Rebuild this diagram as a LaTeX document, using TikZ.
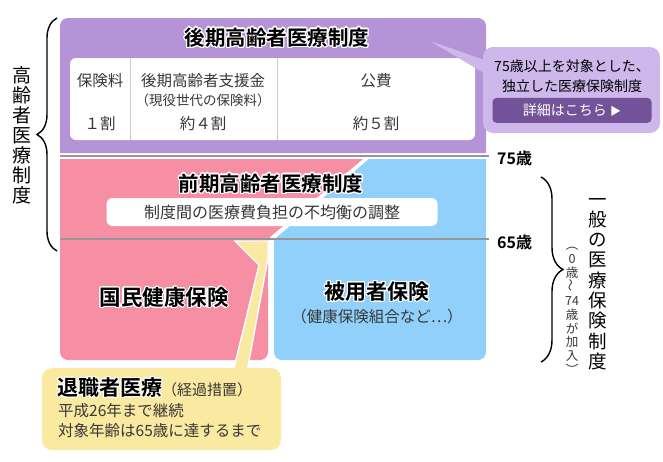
\documentclass[tikz,border=0pt]{standalone}
\usepackage{fontspec}
\setmainfont{Noto Sans CJK JP}[BoldFont={Noto Sans CJK JP Bold}]
\usepackage{contour}
\contourlength{1.2pt}
\contournumber{16}
\usetikzlibrary{positioning, calc}
\usetikzlibrary{decorations.pathreplacing}
\definecolor{koukipurple}{RGB}{180,147,214}
\definecolor{callpurple}{RGB}{206,184,235}
\definecolor{btnpurple}{RGB}{114,82,152}
\definecolor{kokupink}{RGB}{246,143,163}
\definecolor{hiyoblue}{RGB}{145,208,250}
\definecolor{taiyellow}{RGB}{250,233,160}
\definecolor{agegray}{RGB}{150,150,150}
\definecolor{txtgray}{RGB}{55,55,55}

\begin{document}
\begin{tikzpicture}[x=1pt,y=-1pt]
	\useasboundingbox (0,0) rectangle (663,461);
	\def \rowkoukitop{18}
	\def \rowkoukibot{153}
	\def \rowsevfive{156}
	\def \rowzenki{159}
	\def \rowsixfive{239}
	\def \rowbottom{360}
	\def \colleft{60}
	\def \colright{486}
	\tikzstyle{title-txt}=[font=\bfseries\fontsize{20.5}{22}\selectfont]
	\tikzstyle{big-txt}=[font=\bfseries\fontsize{21}{23}\selectfont]
	\tikzstyle{cell-txt}=[text=txtgray,font=\fontsize{15.5}{18}\selectfont]
	\tikzstyle{small-txt}=[text=txtgray,font=\fontsize{13.5}{15}\selectfont]
	\tikzstyle{cell-div}=[draw=black!20,line width=1pt]
	\tikzstyle{age-lbl}=[anchor=west,inner sep=0pt,font=\bfseries\fontsize{16}{18}\selectfont]
	\tikzstyle{age-line}=[draw=agegray,line width=1.8pt,shorten >=8pt]
	\tikzstyle{brace-line}=[decorate,decoration={brace,amplitude=20pt},line width=1.4pt]
	\tikzstyle{v-txt}=[align=center,inner sep=0pt]

	% koki koreisha
	\fill[koukipurple] (\colleft,\rowkoukibot) -- (\colleft,80) [rounded corners=8] -- (\colleft,\rowkoukitop)
		-- (\colright,\rowkoukitop) -- (\colright,80) [sharp corners] -- (\colright,\rowkoukibot) -- cycle;
	\node[title-txt] (kouki) at (277,38) {\contour{white}{後期高齢者医療制度}};
	\node[fill=white,rounded corners=6,minimum width=405pt,minimum height=82pt] (table) at (272.5,99) {};
	\draw[cell-div] (130,58) -- (130,140);
	\draw[cell-div] (277,58) -- (277,140);
	\node[cell-txt] (hoken) at (100,81) {保険料};
	\node[cell-txt] (wari1) at (100,124) {１割};
	\node[cell-txt] (shien) at (203,81) {後期高齢者支援金};
	\node[small-txt] (gen) at (203,100) {（現役世代の保険料）};
	\node[cell-txt] (wari4) at (203,124) {約４割};
	\node[cell-txt] (kouhi) at (376,81) {公費};
	\node[cell-txt] (wari5) at (376,124) {約５割};

	% callout
	\node[fill=callpurple,rounded corners=10,minimum width=177pt,minimum height=86pt] (callout) at (571.5,90) {};
	\coordinate (ptip) at (430,41);
	\fill[callpurple] (ptip) -- ($(callout.north west)+(4,14)$) -- ($(callout.north west)+(4,28)$) -- cycle;
	\node[v-txt,text=black,font=\fontsize{14}{20}\selectfont] (calltxt) at (572,76) {75歳以上を対象とした、\\独立した医療保険制度};
	\node[fill=btnpurple,rounded corners=4,minimum width=159pt,minimum height=25pt,text=white,
		font=\fontsize{14}{16}\selectfont,below=5pt of calltxt] (detail) {詳細はこちら {\fontsize{11}{12}\selectfont ▶}};

	% zenki and lower blocks
	\fill[kokupink] (\colleft,\rowzenki) -- (363,\rowzenki) -- (270,237) -- (268,241) -- (268,300) [rounded corners=8]
		-- (268,\rowbottom) -- (\colleft,\rowbottom) -- (\colleft,300) [sharp corners] -- cycle;
	\fill[hiyoblue] (369,\rowzenki) -- (\colright,\rowzenki) -- (\colright,300) [rounded corners=8]
		-- (\colright,\rowbottom) -- (274,\rowbottom) -- (274,300) [sharp corners] -- (274,241) -- (277,237) -- cycle;
	\filldraw[fill=taiyellow,draw=white,line width=1.4pt] (235,241) -- (268,241) -- (268,258) -- (247,372)
		-- (233,372) -- (259,265) -- cycle;
	\node[title-txt] (zenki) at (271,184) {\contour{white}{前期高齢者医療制度}};
	\node[fill=white,rounded corners=6,minimum width=331pt,minimum height=28pt,cell-txt,font=\fontsize{16}{18}\selectfont]
		(chousei) at (272,212) {制度間の医療費負担の不均衡の調整};
	\node[big-txt,font=\bfseries\fontsize{21.5}{23}\selectfont] (kokuho) at (164,298) {\contour{white}{国民健康保険}};
	\node[big-txt] (hiyou) at (377,292) {\contour{white}{被用者保険}};
	\node[cell-txt] (hiyousub) at (377,317) {（健康保険組合など⋯）};

	% age lines
	\node[age-lbl] (age75) at (497,158) {75歳};
	\node[age-lbl] (age65) at (497,242) {65歳};
	\coordinate (l75) at (\colleft,\rowsevfive);
	\coordinate (l65) at (\colleft,\rowsixfive);
	\path (l75) edge[age-line] (l75 -| age75.west)
		(l65) edge[age-line] (l65 -| age65.west);

	% taishoku
	\node[fill=taiyellow,rounded corners=10,minimum width=239pt,minimum height=82pt] (taibox) at (161.5,409) {};
	\node[anchor=west,inner sep=0pt] (taititle) at (57,388)
		{{\bfseries\fontsize{21}{23}\selectfont\contour{white}{退職者医療}}{\color{txtgray}\fontsize{15}{17}\selectfont（経過措置）}};
	\node[cell-txt,anchor=west,inner sep=0pt] (taione) at (58,411) {平成26年まで継続};
	\node[cell-txt,anchor=west,inner sep=0pt] (taitwo) at (58,431) {対象年齢は65歳に達するまで};

	% braces
	\coordinate (lb-bot) at (57,251);
	\coordinate (lb-top) at (57,18);
	\coordinate (rb-top) at (541,177);
	\coordinate (rb-bot) at (541,362);
	\draw[brace-line] (lb-bot) -- (lb-top);
	\draw[brace-line,decoration={amplitude=22pt}] (rb-top) -- (rb-bot);
	\node[v-txt,font=\fontsize{19}{20}\selectfont] (koureisha) at (22,135) {高\\齢\\者\\医\\療\\制\\度};
	\node[v-txt,font=\fontsize{18.5}{20.3}\selectfont] (ippan) at (598,284) {一\\般\\の\\医\\療\\保\\険\\制\\度};
	\node[v-txt,small-txt,font=\fontsize{12.5}{13.9}\selectfont] (kanyu) at (572,311)
		{︵\\0\\歳\\\rotatebox{90}{～}\\74\\歳\\が\\加\\入\\︶};
\end{tikzpicture}
\end{document}
